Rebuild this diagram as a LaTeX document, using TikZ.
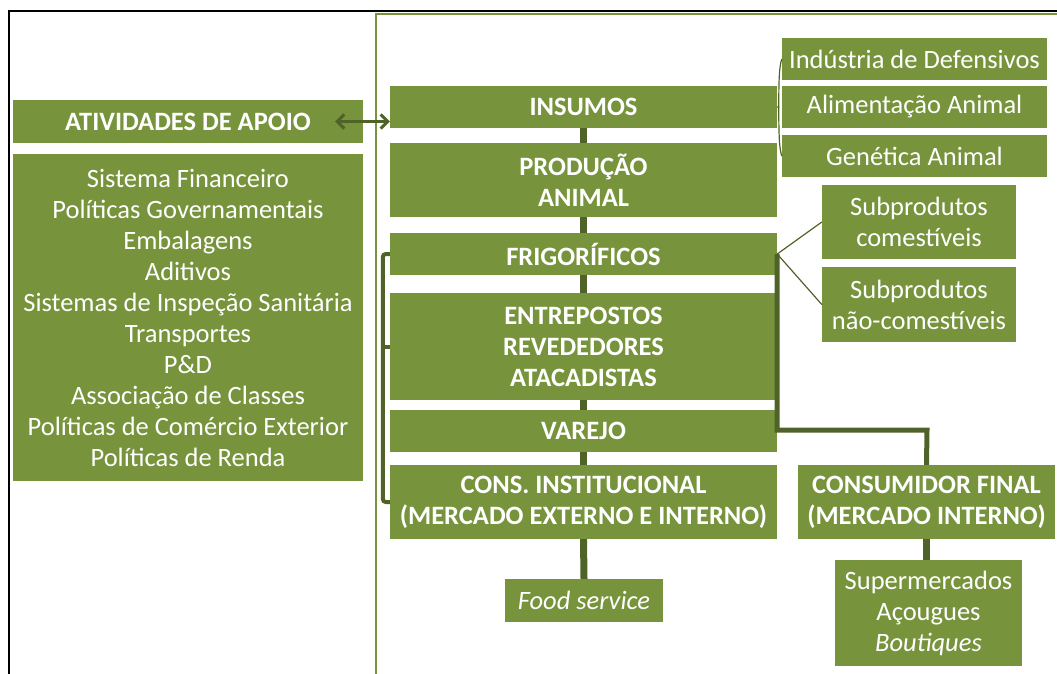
\documentclass[tikz,border=0pt]{standalone}
\usepackage{fontspec}
\setmainfont{Carlito}
\usetikzlibrary{arrows.meta}

\definecolor{olive}{HTML}{77933C}
\definecolor{darkolive}{HTML}{4F6228}

\begin{document}
\begin{tikzpicture}[x=1pt,y=-1pt,
	box/.style={fill=olive,text=white,inner sep=0pt,align=center,
		font=\fontsize{26.5}{31}\selectfont},
	head/.style={box,font=\fontsize{26.5}{31}\selectfont\bfseries},
	link/.style={darkolive,line width=7pt},
	trunk/.style={darkolive,line width=5pt},
	bracket/.style={darkolive,line width=4pt,rounded corners=3pt},
	twig/.style={darkolive,line width=1.2pt},
	twoway/.style={darkolive,line width=3pt,{Straight Barb[length=7pt,width=14pt]}-{Straight Barb[length=7pt,width=14pt]}}]
	\useasboundingbox (0,0) rectangle (1057,673);
	\clip (0,0) rectangle (1057,673);
	
	%FRAMES
	\draw[black,line width=2pt] (9,690) |- (1070,11);
	\draw[olive,line width=2pt] (376,690) |- (1070,14);
	
	%SUPPORT ACTIVITIES
	\node[head,minimum width=350,minimum height=43] (apoio) at (188,121.5) {ATIVIDADES DE APOIO};
	\node[box,minimum width=350,minimum height=327] (apoiolist) at (188,317.5) {Sistema Financeiro\\ Políticas Governamentais\\ Embalagens\\ Aditivos\\ Sistemas de Inspeção Sanitária\\ Transportes\\ P\&D\\ Associação de Classes\\ Políticas de Comércio Exterior\\ Políticas de Renda};
	
	%MAIN CHAIN
	\node[head,minimum width=387,minimum height=42] (insumos) at (583.5,107) {INSUMOS};
	\node[head,minimum width=387,minimum height=74] (producao) at (583.5,180) {PRODUÇÃO\\ ANIMAL};
	\node[head,minimum width=387,minimum height=42] (frig) at (583.5,254) {FRIGORÍFICOS};
	\node[head,minimum width=387,minimum height=107] (entre) at (583.5,346.5) {ENTREPOSTOS\\ REVEDEDORES\\ ATACADISTAS};
	\node[head,minimum width=387,minimum height=42] (varejo) at (583.5,431) {VAREJO};
	\node[head,minimum width=387,minimum height=74] (consinst) at (583.5,502) {CONS. INSTITUCIONAL\\ (MERCADO EXTERNO E INTERNO)};
	\node[head,minimum width=257,minimum height=74] (consfinal) at (926.5,502) {CONSUMIDOR FINAL\\ (MERCADO INTERNO)};
	\node[box,minimum width=158,minimum height=43] (food) at (584,600.5) {\itshape Food service};
	\node[box,minimum width=187,minimum height=106] (lojas) at (928.5,613) {Supermercados\\ Açougues\\ \itshape Boutiques};
	
	%SIDE BOXES
	\node[box,minimum width=265,minimum height=42] (defens) at (914.5,59) {Indústria de Defensivos};
	\node[box,minimum width=265,minimum height=42] (alim) at (914.5,107) {Alimentação Animal};
	\node[box,minimum width=265,minimum height=42] (genet) at (914.5,156) {Genética Animal};
	\node[box,minimum width=194,minimum height=74] (subcom) at (919,222) {Subprodutos\\ comestíveis};
	\node[box,minimum width=194,minimum height=75] (subnao) at (919,304.5) {Subprodutos\\ não-comestíveis};
	
	%LINKS
	\draw[link] (insumos.south) -- (producao.north);
	\draw[link] (producao.south) -- (frig.north);
	\draw[link] (frig.south) -- (entre.north);
	\draw[link] (entre.south) -- (varejo.north);
	\draw[link] (varejo.south) -- (consinst.north);
	\draw[link] (consinst.south) -- (food.north);
	\draw[link] (consfinal.south) -- (consfinal.south |- lojas.north);
	
	\draw[twoway] ([xshift=-28pt]apoio.east) -- (insumos.west |- apoio.east);
	
	\draw[twig] (defens.west) .. controls +(-3,8) and +(0,-20) .. ([xshift=-3pt]alim.west) -- (insumos.east);
	\draw[twig] (genet.west) .. controls +(-3,-8) and +(0,20) .. ([xshift=-3pt]alim.west);
	\draw[twig] (frig.east) -- (subcom.west);
	\draw[twig] (frig.east) -- (subnao.west);
	
	\coordinate (joint) at (927,430);
	\draw[trunk] (frig.east) |- (joint) -- (consfinal.north);
	
	\draw[bracket] (frig.west) -- ++(-7,0) |- (consinst.west);
	\draw[bracket] (entre.west) -- ++(-7,0);
\end{tikzpicture}
\end{document}
